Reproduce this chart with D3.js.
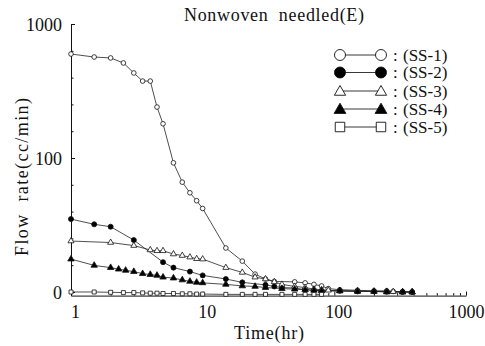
<!DOCTYPE html>
<html>
<head>
<meta charset="utf-8">
<script src="https://cdn.jsdelivr.net/npm/d3@7"></script>
<style>
  body { margin: 0; background: #fff; }
</style>
</head>
<body>
<svg id="chart"></svg>
<script>
// Data (hours, cc/min)
const ss1Hours = [1, 1.5, 2, 2.5, 3, 3.5, 4, 4.5, 5, 6, 7, 8, 9, 10, 15, 20, 25, 30, 35, 50, 60, 70, 80, 90, 110, 150, 200, 250, 280, 330, 390];
const ss1Flow  = [597, 567, 558, 512, 431, 375, 375, 240, 180, 92, 66, 55, 48, 42, 21.3, 17, 13.6, 12.5, 12, 11.9, 11.7, 11.4, 11.1, 10.6, 10.4, 10.3, 10.2, 10.2, 10.1, 10.05, 10];

const ss2Hours = [1, 1.5, 2, 3, 5, 6, 8, 10, 15, 20, 30, 35, 40, 50, 60, 70, 80, 110, 150, 200, 250, 330, 390];
const ss2Flow  = [35, 32, 30.7, 24.4, 16.7, 15.2, 14.2, 13.3, 12.5, 11.8, 11.3, 11.0, 10.8, 10.7, 10.4, 10.3, 10.2, 10.2, 10.1, 10.1, 10.05, 10, 10];

const ss3Hours = [1, 2, 3, 4, 4.5, 5, 6, 7, 8, 9, 10, 15, 20, 25, 30, 35, 40, 50, 60, 70, 80, 90, 110, 150, 200, 250, 280, 330, 390];
const ss3Flow  = [24, 23.4, 22.2, 20.6, 20.3, 20.3, 19.2, 18.7, 18.2, 17.7, 17.6, 15.2, 14, 12.9, 12.5, 11.9, 11.4, 11, 10.8, 10.5, 10.4, 10.3, 10.2, 10.2, 10.1, 10.1, 10.05, 10, 10];

const ss4Hours = [1, 1.5, 2, 2.3, 2.6, 3, 3.5, 4, 4.5, 5, 6, 7, 8, 9, 10, 15, 20, 25, 30, 40, 50, 60, 70, 80, 110, 150, 200, 250, 330, 390];
const ss4Flow  = [17.6, 15.8, 15.2, 14.8, 14.5, 14.2, 13.7, 13.5, 13.3, 12.9, 12.7, 12.3, 12.0, 11.8, 11.7, 11.4, 11.1, 11.0, 10.8, 10.6, 10.5, 10.4, 10.3, 10.2, 10.2, 10.1, 10.1, 10, 10, 10];

const ss5Hours = [1, 1.5, 2, 2.5, 3, 3.5, 4, 4.5, 5, 6, 7, 8, 9, 10, 15, 20, 25, 30, 40, 50, 60, 70, 80];
const ss5Flow  = [10, 10, 9.95, 9.9, 9.9, 9.85, 9.8, 9.8, 9.75, 9.75, 9.7, 9.7, 9.65, 9.65, 9.6, 9.6, 9.6, 9.6, 9.6, 9.6, 9.6, 9.6, 9.6];

const seriesNames = ["(SS-1)", "(SS-2)", "(SS-3)", "(SS-4)", "(SS-5)"];
const xTicks = [1, 10, 100, 1000];
const yTicks = [10, 100, 1000];
const yTickLabels = ["0", "100", "1000"];

const width = 485, height = 346;
const serif = "Liberation Serif";
const svg = d3.select("#chart").attr("width", width).attr("height", height)
  .attr("font-family", serif);

const x = d3.scaleLog().domain([1, 1000]).range([71, 466]);
const y = d3.scaleLog().domain([9.4, 1000]).range([295.6, 24]);

// marker definitions per series
const markers = [
  { shape: d3.symbolCircle, size: 17, fill: "#fff", bigSize: 95 },
  { shape: d3.symbolCircle, size: 20, fill: "#000", bigSize: 95 },
  { shape: d3.symbolTriangle, size: 16, fill: "#fff", bigSize: 55 },
  { shape: d3.symbolTriangle, size: 18, fill: "#000", bigSize: 60 },
  { shape: d3.symbolSquare, size: 16, fill: "#fff", bigSize: 90 }
];

const series = [
  d3.zip(ss1Hours, ss1Flow),
  d3.zip(ss2Hours, ss2Flow),
  d3.zip(ss3Hours, ss3Flow),
  d3.zip(ss4Hours, ss4Flow),
  d3.zip(ss5Hours, ss5Flow)
];

// y axis (ticks pointing inward)
const yAxis = d3.axisLeft(y).tickValues(yTicks)
  .tickFormat((d, i) => yTickLabels[i]).tickSizeInner(-4).tickSizeOuter(0).tickPadding(9);
const gy = svg.append("g").attr("transform", "translate(71,0)").call(yAxis);
gy.attr("font-family", serif).attr("font-size", 18);
gy.selectAll("text").attr("fill", "#111").attr("dy", "0.35em");

const yMinor = [];
for (let k = 1; k < 3; k++) for (let j = 1; j < 5; j++) yMinor.push(Math.pow(10, k + j / 5));
svg.append("g").attr("transform", "translate(71,0)")
  .call(d3.axisLeft(y).tickValues(yMinor).tickFormat("").tickSizeInner(-2.5).tickSizeOuter(0))
  .select(".domain").remove();

// x axis
const xAxis = d3.axisBottom(x).tickValues(xTicks).tickFormat(d3.format("d"))
  .tickSizeInner(-4).tickSizeOuter(0).tickPadding(10);
const gx = svg.append("g").attr("transform", `translate(0,${y(9.4)})`).call(xAxis);
gx.attr("font-family", serif).attr("font-size", 18);
gx.selectAll("text").attr("fill", "#111").attr("dx", d => d === 1000 ? 0 : 4);

const xMinor = [];
for (let k = 0; k < 3; k++) for (let j = 2; j < 10; j++) xMinor.push(j * Math.pow(10, k));
svg.append("g").attr("transform", `translate(0,${y(9.4)})`)
  .call(d3.axisBottom(x).tickValues(xMinor).tickFormat("").tickSizeInner(-2.5).tickSizeOuter(0))
  .select(".domain").remove();

svg.selectAll(".domain, .tick line").attr("stroke", "#111").attr("stroke-width", 1);

// lines
const line = d3.line().x(d => x(d[0])).y(d => y(d[1]));
svg.append("g").selectAll("path").data(series).enter().append("path")
  .attr("d", line).attr("fill", "none").attr("stroke", "#222").attr("stroke-width", 0.8);

// markers
series.forEach((s, i) => {
  const m = markers[i];
  svg.append("g").selectAll("path").data(s).enter().append("path")
    .attr("d", d3.symbol().type(m.shape).size(m.size))
    .attr("transform", d => `translate(${x(d[0])},${y(d[1])})`)
    .attr("fill", m.fill).attr("stroke", "#111").attr("stroke-width", 0.8);
});

// legend
const legend = svg.append("g").attr("font-family", serif).attr("font-size", 17);
const legendY = [55, 72.5, 91, 109, 127];
seriesNames.forEach((name, i) => {
  const m = markers[i];
  const ly = legendY[i];
  legend.append("line").attr("x1", 340).attr("x2", 381).attr("y1", ly).attr("y2", ly)
    .attr("stroke", "#222").attr("stroke-width", 0.9);
  [340, 381].forEach(lx => {
    legend.append("path").attr("d", d3.symbol().type(m.shape).size(m.bigSize))
      .attr("transform", `translate(${lx},${ly + (m.shape === d3.symbolTriangle ? 1 : 0)})`)
      .attr("fill", m.fill).attr("stroke", "#111").attr("stroke-width", 0.9);
  });
  legend.append("text").attr("x", 393).attr("y", ly).attr("dy", "0.35em").attr("fill", "#111").text(":");
  legend.append("text").attr("x", 403).attr("y", ly).attr("dy", "0.35em").attr("fill", "#111").text(name);
});

// title and axis labels
svg.append("text").attr("x", 274).attr("y", 21).attr("text-anchor", "middle")
  .attr("font-size", 18).attr("fill", "#111").attr("textLength", 180)
  .attr("xml:space", "preserve").text("Nonwoven  needled(E)");
svg.append("text").attr("x", 269).attr("y", 339).attr("text-anchor", "middle")
  .attr("font-size", 18).attr("fill", "#111").attr("textLength", 70).text("Time(hr)");
svg.append("text").attr("transform", "translate(28,177) rotate(-90)").attr("text-anchor", "middle")
  .attr("font-size", 18).attr("fill", "#111").attr("textLength", 158)
  .attr("xml:space", "preserve").text("Flow  rate(cc/min)");
</script>
</body>
</html>
